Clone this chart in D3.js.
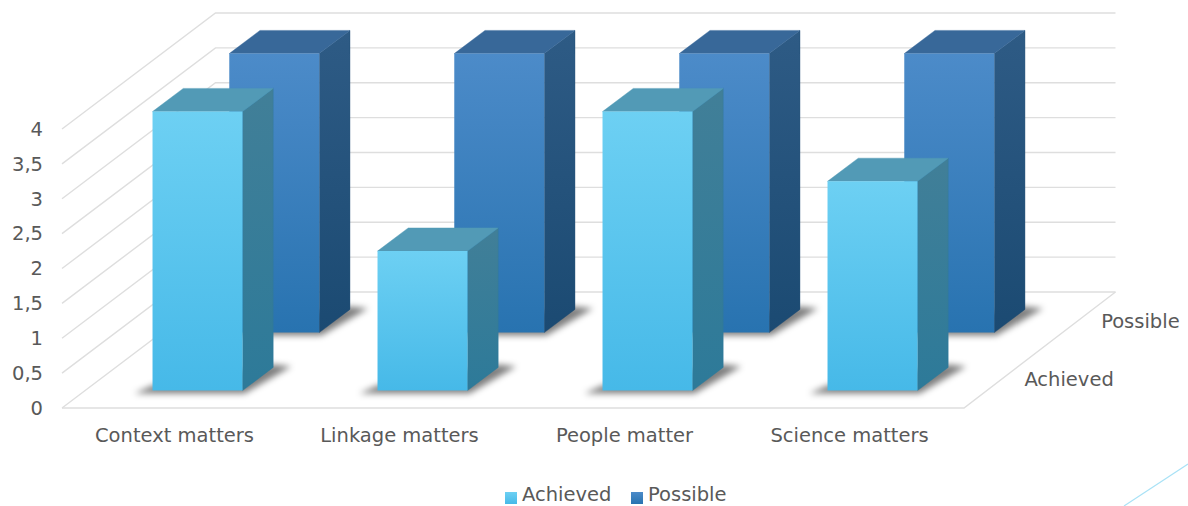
<!DOCTYPE html>
<html>
<head>
<meta charset="utf-8">
<script src="https://cdn.jsdelivr.net/npm/d3@7"></script>
<style>
html,body{margin:0;padding:0;background:#fff;}
svg{display:block;}
text{font-family:"DejaVu Sans",sans-serif;font-size:19.5px;fill:#595959;}
</style>
</head>
<body>
<svg id="chart" width="1188" height="506"></svg>
<script>
// Chart data
const categories = ["Context matters", "Linkage matters", "People matter", "Science matters"];
const seriesNames = ["Achieved", "Possible"];
const achieved = [4, 2, 4, 3];
const possible = [4, 4, 4, 4];
const valueTicks = [0, 0.5, 1, 1.5, 2, 2.5, 3, 3.5, 4];

const palette = {
  Achieved: {front: ["#6dd0f3", "#46b9e8"], side: ["#417f98", "#2d7a99"], top: "#529ab6"},
  Possible: {front: ["#4c8bc9", "#2873b0"], side: ["#2e5b85", "#1b4a72"], top: "#386899"}
};

const svg = d3.select("#chart");

// Oblique projection: x runs along the front of the floor, depth runs towards the back.
const floorLeft = 62, floorRight = 962, floorFront = 408;
const depthDX = 153.5, depthDY = 116;

const xBand = d3.scaleBand().domain(categories).range([floorLeft, floorRight])
  .paddingInner(0.6).paddingOuter(0.3);
const depthBand = d3.scaleBand().domain(seriesNames).range([0, 1])
  .paddingInner(0.6).paddingOuter(0.3);
const yValue = d3.scaleLinear().domain([0, 4]).range([0, 279]);

const project = (x, depth, value) => [
  x + depth * depthDX,
  floorFront - depth * depthDY - yValue(value)
];
const polyPoints = pts => pts.map(p => p.map(n => n.toFixed(2)).join(",")).join(" ");

// Gradients and shadow blur
const defs = svg.append("defs");
const addGradient = (id, stops) => {
  const g = defs.append("linearGradient").attr("id", id)
    .attr("x1", 0).attr("y1", 0).attr("x2", 0).attr("y2", 1);
  stops.forEach((c, i) => g.append("stop").attr("offset", i).attr("stop-color", c));
};
seriesNames.forEach(name => {
  addGradient(`front-${name}`, palette[name].front);
  addGradient(`side-${name}`, palette[name].side);
});
defs.append("filter").attr("id", "soft")
  .attr("x", "-30%").attr("y", "-60%").attr("width", "160%").attr("height", "220%")
  .append("feGaussianBlur").attr("stdDeviation", 3.2);

// Walls and floor grid
const grid = svg.append("g").attr("fill", "none").attr("stroke", "#dedede").attr("stroke-width", 1.4);
const line = d3.line();
valueTicks.forEach(v => {
  const a = project(floorLeft, 0, v), b = project(floorLeft, 1, v), c = project(floorRight, 1, v);
  grid.append("path").attr("d", line([a, b, c]));
});
grid.append("path").attr("d", line([
  project(floorLeft, 0, 0),
  project(floorRight + 2, 0, 0),
  project(floorRight, 1, 0)
]));

// Value axis along the left wall
const yAxisScale = d3.scaleLinear().domain([0, 4]).range([floorFront, floorFront - yValue(4)]);
const yAxis = d3.axisLeft(yAxisScale).tickValues(valueTicks).tickSize(0).tickPadding(0)
  .tickFormat(d => String(d).replace(".", ","));
svg.append("g").attr("transform", "translate(43,0)").call(yAxis)
  .call(g => g.select(".domain").remove())
  .selectAll("text").style("font-size", "19.5px").style("font-family", "'DejaVu Sans',sans-serif");

// Category labels under the front edge
svg.append("g").selectAll("text").data(categories).join("text")
  .attr("x", d => xBand(d) + xBand.bandwidth() / 2)
  .attr("y", 442)
  .attr("text-anchor", "middle")
  .text(d => d);

// Series labels beside the right edge of the floor
svg.append("g").selectAll("text").data(seriesNames).join("text")
  .attr("x", d => project(floorRight, depthBand(d) + depthBand.bandwidth() / 2, 0)[0] + 24)
  .attr("y", d => project(floorRight, depthBand(d) + depthBand.bandwidth() / 2, 0)[1] + 7)
  .text(d => d);

// Columns, rear series first
const rows = [
  {name: "Possible", values: possible},
  {name: "Achieved", values: achieved}
];
rows.forEach(row => {
  const d0 = depthBand(row.name), d1 = d0 + depthBand.bandwidth();
  const w = xBand.bandwidth();
  row.values.forEach((value, i) => {
    const x0 = xBand(categories[i]), x1 = x0 + w;
    const g = svg.append("g");
    const fl = project(x0, d0, 0), fr = project(x1, d0, 0), br = project(x1, d1, 0);
    const tfl = project(x0, d0, value), tfr = project(x1, d0, value);
    const tbl = project(x0, d1, value), tbr = project(x1, d1, value);

    // Soft contact shadow on the floor
    g.append("polygon")
      .attr("points", polyPoints([
        [fl[0] - 18, fl[1] + 3], [fr[0] + 2, fr[1] + 3],
        [br[0] + 18, br[1] - 1], [br[0], br[1] - 3], [fl[0], fl[1] - 5]
      ]))
      .attr("fill", "#000").attr("fill-opacity", 0.5).attr("filter", "url(#soft)");

    // Side and top sit slightly under the front face so no seam shows at the shared edges
    g.append("polygon").attr("points", polyPoints([tfr, tbr, br, fr]))
      .attr("fill", `url(#side-${row.name})`)
      .attr("stroke", palette[row.name].side[1]).attr("stroke-width", 0.4);
    g.append("polygon").attr("points", polyPoints([tfl, tbl, tbr, tfr]))
      .attr("fill", palette[row.name].top)
      .attr("stroke", palette[row.name].top).attr("stroke-width", 0.4);
    g.append("polygon").attr("points", polyPoints([fl, tfl, tfr, fr]))
      .attr("fill", `url(#front-${row.name})`);
  });
});

// Legend
const legendItems = [
  {name: "Achieved", swatch: 505, label: 522},
  {name: "Possible", swatch: 631, label: 648}
];
const legend = svg.append("g").selectAll("g").data(legendItems).join("g");
legend.append("rect")
  .attr("x", d => d.swatch).attr("y", 492).attr("width", 12).attr("height", 12)
  .attr("fill", d => `url(#front-${d.name})`);
legend.append("text").attr("x", d => d.label).attr("y", 501.3).text(d => d.name);

// Thin accent stroke in the lower right corner
svg.append("path").attr("d", line([[1124, 506], [1188, 464]]))
  .attr("stroke", "#a9e2f6").attr("stroke-width", 1.2).attr("fill", "none");
</script>
</body>
</html>
